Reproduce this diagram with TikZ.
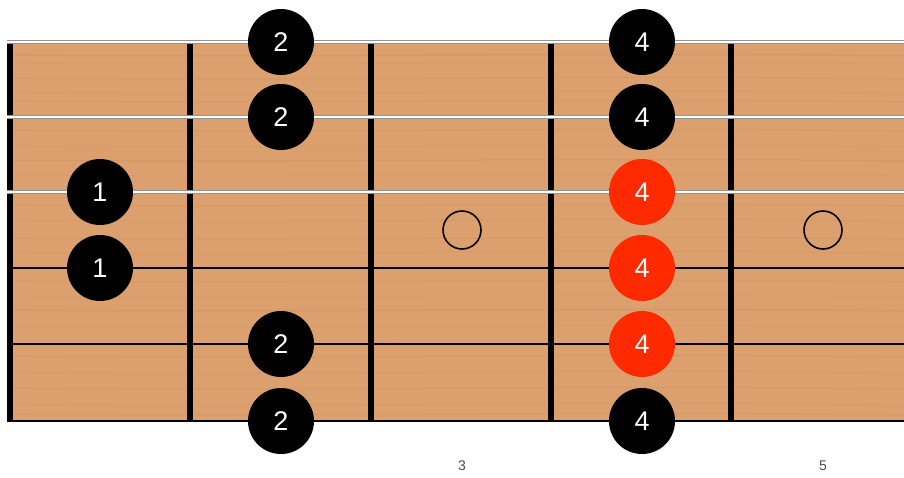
\documentclass[tikz,border=0pt]{standalone}
\usepackage{fontspec}
\setmainfont{Liberation Sans}
\begin{document}
\begin{tikzpicture}[x=1pt,y=-1pt,
  finger/.style={circle,fill=black,text=white,minimum size=66pt,inner sep=0pt,font=\fontsize{27}{27}\selectfont},
  hot/.style={finger,fill=fingerred},
  fretbar/.style={line width=6pt,black},
  woundstr/.style={line width=4pt,draw=gray!85},
  plainstr/.style={line width=1.1pt,black},
  inlay/.style={circle,draw=black,line width=1.6pt,minimum size=38pt,inner sep=0pt},
  fretnum/.style={text=black!70,font=\fontsize{14}{14}\selectfont}]
\definecolor{fingerred}{RGB}{255,42,0}
\definecolor{woodA}{RGB}{220,160,110}
\definecolor{woodB}{RGB}{196,134,88}
\useasboundingbox (0,0) rectangle (904,477);
\fill[white] (0,0) rectangle (904,477);
% wood
\fill[woodA] (7,43) rectangle (904,422);
\begin{scope}
\clip (7,43) rectangle (904,422);
\foreach \yy/\op in {55/0.25,63/0.15,78/0.2,92/0.15,101/0.2,130/0.2,146/0.15,160/0.25,175/0.15,205/0.2,220/0.15,238/0.2,252/0.15,281/0.2,296/0.15,310/0.25,326/0.15,356/0.2,372/0.15,388/0.2,404/0.15,414/0.2}
  \draw[woodB,opacity=\op,line width=1.5pt] (7,\yy) .. controls (300,\yy+3) and (600,\yy-3) .. (904,\yy+1);
\end{scope}
% frets
\foreach \fx/\nm in {10/n0,190/n1,371/n2,551/n3,731/n4}{
  \coordinate (\nm t) at (\fx,43);
  \coordinate (\nm b) at (\fx,422);
  \draw[fretbar] (\nm t) -- (\nm b);
}
% strings
\foreach \sy/\nm in {42/s1,117/s2,192/s3}{
  \coordinate (\nm l) at (7,\sy);
  \coordinate (\nm r) at (904,\sy);
  \draw[woundstr] (\nm l) -- (\nm r);
  \draw[white,line width=2pt] (\nm l) -- (\nm r);
}
\foreach \sy/\nm in {268/s4,344/s5,421/s6}{
  \coordinate (\nm l) at (7,\sy);
  \coordinate (\nm r) at (904,\sy);
  \draw[plainstr] (\nm l) -- (\nm r);
}
% inlays
\node[inlay] (i3) at (462,230) {};
\node[inlay] (i5) at (823,230) {};
\node[fretnum] (l3) at (462,466) {3};
\node[fretnum] (l5) at (823,466) {5};
% fingers
\node[finger] (a3) at (100,192) {1};
\node[finger] (a4) at (100,268) {1};
\node[finger] (b1) at (281,42) {2};
\node[finger] (b2) at (281,117) {2};
\node[finger] (b5) at (281,344) {2};
\node[finger] (b6) at (281,421) {2};
\node[finger] (c1) at (642,42) {4};
\node[finger] (c2) at (642,117) {4};
\node[hot] (c3) at (642,192) {4};
\node[hot] (c4) at (642,268) {4};
\node[hot] (c5) at (642,344) {4};
\node[finger] (c6) at (642,421) {4};
\end{tikzpicture}
\end{document}
